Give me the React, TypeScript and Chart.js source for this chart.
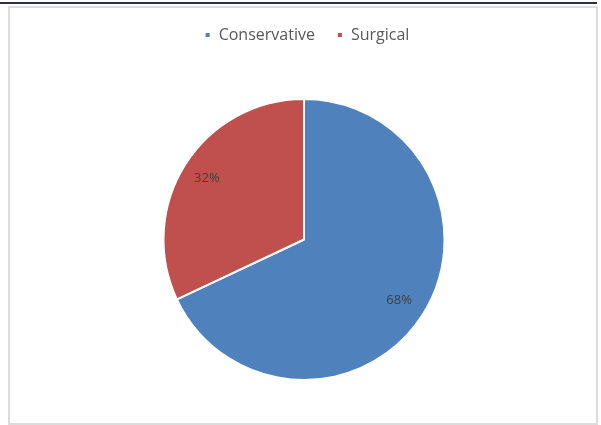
import React, { useEffect, useRef } from "react";
import { Chart, registerables } from "chart.js";

Chart.register(...registerables);

const categories = ["Conservative", "Surgical"];
const values = [68, 32];
const colors = ["#4f81bd", "#c0504d"];

const labelPlugin = {
  id: "sliceLabels",
  afterDatasetsDraw(chart: any) {
    const ctx = chart.ctx;
    const meta = chart.getDatasetMeta(0);
    const data = chart.data.datasets[0].data as number[];
    const total = data.reduce((a: number, b: number) => a + b, 0);
    ctx.save();
    ctx.fillStyle = "#404040";
    ctx.font = "13px 'Open Sans', sans-serif";
    ctx.textAlign = "center";
    ctx.textBaseline = "middle";
    meta.data.forEach((arc: any, i: number) => {
      const { x, y, startAngle, endAngle, outerRadius } = arc.getProps(
        ["x", "y", "startAngle", "endAngle", "outerRadius"],
        true
      );
      const mid = (startAngle + endAngle) / 2;
      const r = outerRadius * 0.81;
      const pct = Math.round((data[i] / total) * 100) + "%";
      ctx.fillText(pct, x + Math.cos(mid) * r - 1, y + Math.sin(mid) * r);
    });
    ctx.restore();
  },
};

const legendSpacer = {
  id: "legendSpacer",
  beforeInit(chart: any) {
    const legend = chart.legend;
    if (!legend) return;
    const origFit = legend.fit;
    legend.fit = function () {
      origFit.bind(legend)();
      this.height += 45;
    };
  },
  afterLayout(chart: any) {
    const legend = chart.legend;
    if (!legend) return;
    legend.left += 3;
    legend.right += 3;
  },
};

export default function App() {
  const ref = useRef<HTMLCanvasElement | null>(null);
  useEffect(() => {
    if (!ref.current) return;
    const chart = new Chart(ref.current, {
      type: "pie",
      data: {
        labels: categories,
        datasets: [
          {
            data: values,
            backgroundColor: colors,
            borderColor: "#ffffff",
            borderWidth: 2,
          },
        ],
      },
      options: {
        animation: false,
        responsive: false,
        maintainAspectRatio: false,
        layout: { padding: { left: 7, right: 0, top: 5, bottom: 44 } },
        plugins: {
          tooltip: { enabled: false },
          legend: {
            position: "top",
            labels: {
              boxWidth: 6,
              boxHeight: 6,
              padding: 22,
              color: "#595959",
              font: { family: "'Open Sans', sans-serif", size: 16 },
            },
          },
        },
      },
      plugins: [labelPlugin, legendSpacer],
    });
    return () => chart.destroy();
  }, []);

  return (
    <div
      style={{
        position: "absolute",
        left: 0,
        top: 0,
        width: 601,
        height: 425,
        background: "#ffffff",
        overflow: "hidden",
      }}
    >
      <div
        style={{
          position: "absolute",
          left: 0,
          top: 2,
          width: 597,
          height: 2,
          background: "#2e2e4a",
        }}
      />
      <div
        style={{
          position: "absolute",
          left: 8,
          top: 6,
          width: 586,
          height: 415,
          border: "2px solid #dcdcdc",
        }}
      />
      <canvas
        ref={ref}
        width={601}
        height={425}
        style={{ position: "absolute", left: 0, top: 0 }}
      />
    </div>
  );
}
